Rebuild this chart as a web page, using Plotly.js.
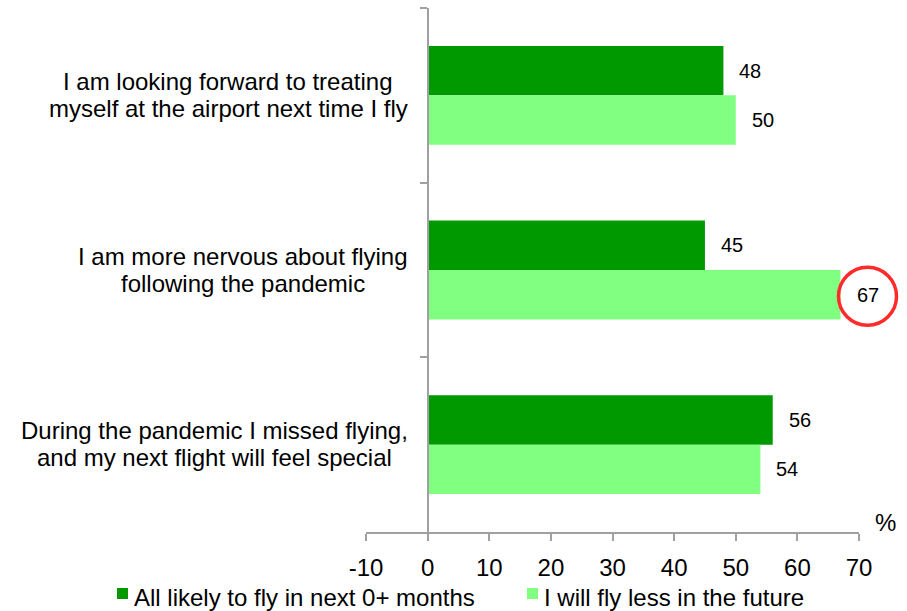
<!DOCTYPE html>
<html><head><meta charset="utf-8">
<script src="https://cdn.plot.ly/plotly-3.0.1.min.js"></script>
<style>html,body{margin:0;padding:0;background:#fff}#chart{width:907px;height:611px}</style>
</head><body><div id="chart"></div>
<script>
// ---- data ----
const categoryLines = [
  ["I am looking forward to treating", "myself at the airport next time I fly"],
  ["I am more nervous about flying", "following the pandemic"],
  ["During the pandemic I missed flying,", "and my next flight will feel special"]
];
const seriesNames = ["All likely to fly in next 0+ months", "I will fly less in the future"];
const likelyValues = [48, 45, 56];
const flyLessValues = [50, 67, 54];
const xTickValues = [-10, 0, 10, 20, 30, 40, 50, 60, 70];
const xRange = [-10, 70];
const axisUnit = "%";
const highlightCategory = 1; // highlighted bar of the second series

// ---- styling / geometry ----
const FONT = '"Liberation Sans", Arial, sans-serif';
const W = 907, H = 611;
const M = {l: 366, r: 48, t: 8, b: 79};
const bargap = 0.434;
const plotW = W - M.l - M.r;
const plotH = H - M.t - M.b;
const categories = categoryLines.map(l => l.join(' '));
const nCat = categories.length;
const band = plotH / nCat;
const barPx = band * (1 - bargap) / 2;
const xFrac = v => (v - xRange[0]) / (xRange[1] - xRange[0]);
const axisPos = xFrac(0);
const pxToPaperX = px => (px - M.l) / plotW;
const pxToPaperY = py => (H - M.b - py) / plotH;
const colors = ['#009900', '#80ff80'];
const axisColor = '#a0a0a0';

const seriesValues = [likelyValues, flyLessValues];
const traces = seriesValues.map((vals, s) => ({
  type: 'bar', orientation: 'h', name: seriesNames[s],
  y: categories, x: vals,
  marker: {color: colors[s], line: {width: 0}},
  hoverinfo: 'skip', showlegend: false
}));

const annotations = [];
seriesValues.forEach((vals, s) => {
  vals.forEach((v, j) => {
    annotations.push({
      xref: 'x', yref: 'y', x: v, y: categories[j], text: String(v),
      showarrow: false, xanchor: 'left', yanchor: 'middle', xshift: 14,
      yshift: s === 0 ? barPx / 2 : -barPx / 2,
      font: {family: FONT, size: 20, color: '#000'}
    });
  });
});

// category labels (centered lines, tight line spacing)
const cv = document.createElement('canvas').getContext('2d');
cv.font = '24px "Liberation Sans"';
categoryLines.forEach((lines, j) => {
  const maxW = Math.max(...lines.map(t => cv.measureText(t).width));
  lines.forEach((t, k) => {
    annotations.push({
      xref: 'paper', yref: 'y', x: axisPos, y: categories[j], text: t,
      showarrow: false, xanchor: 'center', yanchor: 'middle',
      xshift: -(20 + maxW / 2), yshift: k === 0 ? 14 : -13,
      font: {family: FONT, size: 24, color: '#000'}
    });
  });
});

annotations.push({
  xref: 'paper', yref: 'paper', x: 1, y: 0, text: axisUnit, showarrow: false,
  xanchor: 'left', yanchor: 'bottom', xshift: 14, yshift: -6,
  font: {family: FONT, size: 24, color: '#000'}
});

// highlight circle (paper-referenced so it is not clipped by the plot area)
const hlY = 1 - (highlightCategory + 0.5) / nCat;
const shapes = [{
  type: 'circle', xref: 'paper', yref: 'paper',
  xsizemode: 'pixel', ysizemode: 'pixel',
  xanchor: xFrac(flyLessValues[highlightCategory]), yanchor: hlY,
  x0: -2, x1: 56,
  y0: -barPx / 2 - 29 - 1.5, y1: -barPx / 2 + 29 - 1.5,
  line: {color: '#ff2a2a', width: 3.5}
}];

// legend (keys + labels) below the axis
const legendKeys = [{sx: 117, tx: 133}, {sx: 527, tx: 543}];
const legendY = 597;
legendKeys.forEach((k, s) => {
  shapes.push({
    type: 'rect', xref: 'paper', yref: 'paper',
    x0: pxToPaperX(k.sx), x1: pxToPaperX(k.sx + 11),
    y0: pxToPaperY(legendY - 9), y1: pxToPaperY(legendY + 2),
    fillcolor: colors[s], line: {width: 0}
  });
  annotations.push({
    xref: 'paper', yref: 'paper', x: pxToPaperX(k.tx - 1), y: pxToPaperY(legendY),
    text: seriesNames[s], showarrow: false, xanchor: 'left', yanchor: 'middle',
    font: {family: FONT, size: 24, color: '#000'}
  });
});

const layout = {
  width: W, height: H, margin: M,
  paper_bgcolor: '#fff', plot_bgcolor: '#fff',
  font: {family: FONT, size: 24, color: '#000'},
  barmode: 'group', bargap: bargap, bargroupgap: 0,
  showlegend: false,
  xaxis: {
    range: xRange, tickmode: 'array', tickvals: xTickValues,
    ticktext: xTickValues.map(String),
    ticks: 'outside', ticklen: 7, tickwidth: 2, tickcolor: axisColor,
    ticklabelstandoff: 6,
    showline: true, linecolor: axisColor, linewidth: 2,
    showgrid: false, zeroline: false,
    tickfont: {family: FONT, size: 24, color: '#000'}, fixedrange: true
  },
  yaxis: {
    type: 'category', autorange: 'reversed',
    anchor: 'free', position: axisPos,
    showline: true, linecolor: axisColor, linewidth: 2,
    ticks: 'outside', tickson: 'boundaries', ticklen: 7, tickwidth: 2, tickcolor: axisColor,
    showticklabels: false, showgrid: false, zeroline: false, fixedrange: true
  },
  annotations: annotations,
  shapes: shapes
};

Plotly.newPlot('chart', traces, layout, {displayModeBar: false, staticPlot: true});
</script>
</body></html>
